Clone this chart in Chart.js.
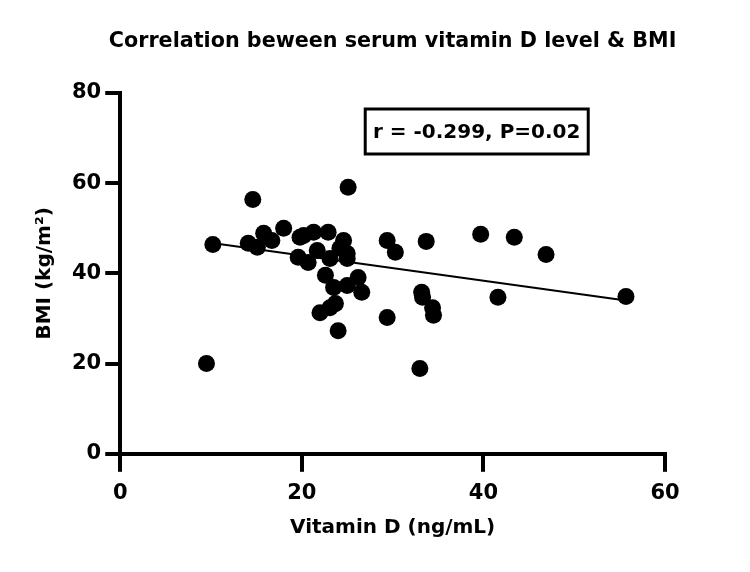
<!DOCTYPE html>
<html>
<head>
<meta charset="utf-8">
<script src="https://cdn.jsdelivr.net/npm/chart.js@4.4.1/dist/chart.umd.min.js"></script>
<style>
  html, body { margin: 0; padding: 0; background: #fff; }
  #wrap { width: 750px; height: 572px; }
</style>
</head>
<body>
<div id="wrap"><canvas id="scatter"></canvas></div>
<script>
// Vitamin D (ng/mL) and BMI values
const vitD = [9.5, 10.2, 14.6, 14.1, 15.1, 15.8, 16.7, 18.0, 19.8, 19.6, 21.3, 21.7, 22.9, 23.1, 24.6,
  25.0, 24.2, 25.1, 22.6, 23.5, 25.0, 26.2, 26.6, 23.7, 22.0, 23.1, 24.0, 29.4, 29.4, 30.3,
  33.7, 33.2, 33.3, 34.4, 34.5, 33.0, 39.7, 43.4, 46.9, 41.6, 55.7, 20.7, 25.0, 20.2];
const bmi = [20.0, 46.4, 56.4, 46.7, 45.8, 48.9, 47.3, 50.0, 48.0, 43.6, 49.1, 45.1, 49.1, 43.3, 47.3,
  44.4, 45.6, 59.1, 39.6, 36.9, 37.3, 39.1, 35.8, 33.3, 31.3, 32.4, 27.3, 30.2, 47.3, 44.7,
  47.1, 35.8, 34.7, 32.4, 30.7, 18.9, 48.7, 48.0, 44.2, 34.7, 34.9, 42.4, 43.3, 48.4];

// fitted line end points
const fitX = [9.5, 55.7];
const fitY = [46.9, 34.0];

const xTicks = [0, 20, 40, 60];
const yTicks = [0, 20, 40, 60, 80];
const titleText = 'Correlation beween serum vitamin D level & BMI';
const statText = 'r = -0.299, P=0.02';

const FONT = 'DejaVu Sans';

// title (centred over the plot area) and the r / P box
const extras = {
  id: 'extras',
  afterDatasetsDraw(chart) {
    const a = chart.chartArea;
    const c = chart.ctx;
    c.save();
    c.fillStyle = '#000';
    c.textAlign = 'center';
    c.textBaseline = 'middle';
    c.font = 'bold 20.7px "' + FONT + '"';
    c.fillText(titleText, (a.left + a.right) / 2, 42);

    const left = a.left + 245, top = a.top + 16, w = 223, h = 45;
    c.fillStyle = '#fff';
    c.fillRect(left, top, w, h);
    c.lineWidth = 3;
    c.strokeStyle = '#000';
    c.strokeRect(left, top, w, h);
    c.fillStyle = '#000';
    c.font = 'bold 20px "' + FONT + '"';
    c.fillText(statText, left + w / 2, top + h / 2 + 1);
    c.restore();
  }
};

const ctx = document.getElementById('scatter').getContext('2d');
new Chart(ctx, {
  type: 'scatter',
  data: {
    datasets: [
      {
        label: 'BMI',
        data: vitD.map((v, i) => ({ x: v, y: bmi[i] })),
        backgroundColor: '#000',
        borderWidth: 0,
        pointRadius: 8.5,
        order: 1
      },
      {
        label: 'fit',
        type: 'line',
        data: fitX.map((v, i) => ({ x: v, y: fitY[i] })),
        borderColor: '#000',
        borderWidth: 2,
        pointRadius: 0,
        fill: false,
        order: 2
      }
    ]
  },
  options: {
    responsive: true,
    maintainAspectRatio: false,
    animation: false,
    layout: { padding: { left: 29, right: 85, top: 93, bottom: 28 } },
    plugins: {
      legend: { display: false },
      tooltip: { enabled: false },
      title: { display: false }
    },
    scales: {
      x: {
        type: 'linear',
        min: 0,
        max: 60,
        afterBuildTicks: axis => { axis.ticks = xTicks.map(v => ({ value: v })); },
        grid: { drawOnChartArea: false, color: '#000', lineWidth: 4, tickLength: 18 },
        border: { display: true, color: '#000', width: 4 },
        ticks: { color: '#000', padding: 9, maxRotation: 0, font: { family: FONT, size: 21, weight: 'bold' } },
        title: {
          display: true,
          text: 'Vitamin D (ng/mL)',
          color: '#000',
          font: { family: FONT, size: 20, weight: 'bold' },
          padding: { top: 1, bottom: 4 }
        }
      },
      y: {
        type: 'linear',
        min: 0,
        max: 80,
        afterBuildTicks: axis => { axis.ticks = yTicks.map(v => ({ value: v })); },
        grid: { drawOnChartArea: false, color: '#000', lineWidth: 4, tickLength: 15 },
        border: { display: true, color: '#000', width: 4 },
        ticks: { color: '#000', padding: 4, font: { family: FONT, size: 21, weight: 'bold' } },
        title: {
          display: true,
          text: 'BMI (kg/m²)',
          color: '#000',
          font: { family: FONT, size: 20, weight: 'bold' },
          padding: { top: 4, bottom: 11 }
        }
      }
    }
  },
  plugins: [extras]
});
</script>
</body>
</html>
